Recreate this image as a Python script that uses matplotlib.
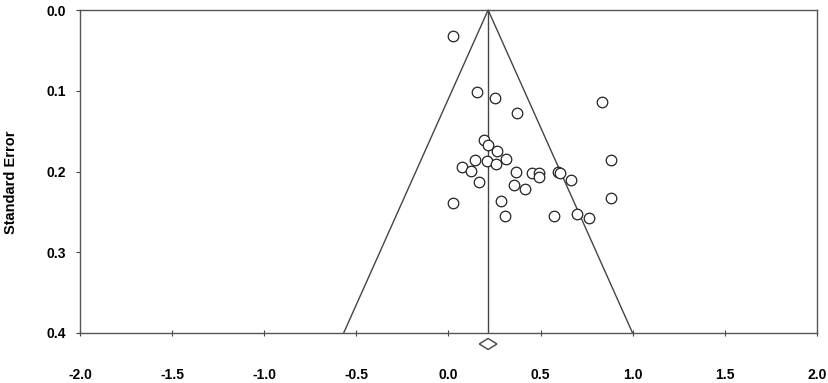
import matplotlib

matplotlib.use("Agg")
import matplotlib.pyplot as plt
import numpy as np
from matplotlib.patches import Polygon

# study effect sizes and standard errors
effect = [0.023, 0.155, 0.254, 0.373, 0.833, 0.882, 0.882, 0.665, 0.696, 0.764,
          0.193, 0.216, 0.261, 0.310, 0.144, 0.207, 0.256, 0.072, 0.122, 0.166,
          0.365, 0.451, 0.493, 0.493, 0.593, 0.605, 0.356, 0.415, 0.023, 0.283,
          0.307, 0.574]
std_err = [0.032, 0.101, 0.109, 0.128, 0.114, 0.186, 0.233, 0.211, 0.253, 0.258,
           0.161, 0.167, 0.175, 0.184, 0.186, 0.187, 0.191, 0.194, 0.199, 0.213,
           0.201, 0.2015, 0.2015, 0.207, 0.200, 0.2015, 0.217, 0.222, 0.239, 0.236,
           0.255, 0.255]

pooled = 0.215
pooled_lo, pooled_hi = 0.167, 0.263
se_max = 0.4
xticks = [-2.0, -1.5, -1.0, -0.5, 0.0, 0.5, 1.0, 1.5, 2.0]
yticks = [0.0, 0.1, 0.2, 0.3, 0.4]

plt.rcParams["font.family"] = ["Liberation Sans", "DejaVu Sans"]
LC = "#444444"

fig = plt.figure(figsize=(8.29, 3.83), dpi=100)
ax = fig.add_axes([80 / 829, 50 / 383, 737 / 829, 323 / 383])

# funnel (pseudo 95% limits) and the pooled-effect line
ax.plot([pooled - 1.96 * se_max, pooled, pooled + 1.96 * se_max], [se_max, 0, se_max],
        color=LC, lw=1.0, clip_on=False)
ax.plot([pooled, pooled], [0, se_max], color=LC, lw=1.0)

ax.plot(effect, std_err, "o", ms=7.6, mfc="white", mec="#222222", mew=0.9, zorder=3)

# summary diamond just under the axis
dy = 0.0068
yd = se_max + 0.0136
diamond = Polygon([[pooled_lo, yd], [pooled, yd - dy], [pooled_hi, yd], [pooled, yd + dy]],
                  closed=True, fc="white", ec=LC, lw=1.0, clip_on=False)
ax.add_patch(diamond)

ax.set_xlim(-2.0, 2.0)
ax.set_ylim(se_max, 0.0)
ax.set_xticks(xticks)
ax.set_xticklabels([f"{v:.1f}" for v in xticks])
ax.set_yticks(yticks)
ax.set_yticklabels([f"{v:.1f}" for v in yticks])
ax.tick_params(axis="x", direction="inout", length=4, pad=23, colors=LC, labelcolor="black",
               labelsize=10)
ax.tick_params(axis="y", direction="out", length=3, pad=7, colors=LC, labelcolor="black",
               labelsize=10)
for t in ax.get_xticklabels() + ax.get_yticklabels():
    t.set_fontweight("bold")
for s in ax.spines.values():
    s.set_color("#555555")
    s.set_linewidth(1.0)

fig.text(11 / 829, 1 - 182 / 383, "Standard Error", rotation=90, ha="center", va="center",
         fontsize=10.5, fontweight="bold")

fig.savefig("out.png", dpi=100)
